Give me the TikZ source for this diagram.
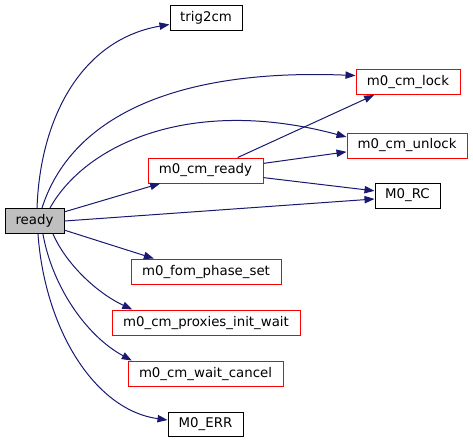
\documentclass[tikz,border=0pt]{standalone}
\usepackage{fontspec}
\setmainfont{DejaVu Sans}
\usetikzlibrary{arrows.meta}
\definecolor{edgecol}{HTML}{191970}
\definecolor{readyfill}{HTML}{BFBFBF}
\tikzset{
  box/.style={draw=black, line width=0.75pt, minimum height=18.75pt, inner sep=0pt, font=\fontsize{10pt}{12pt}\selectfont},
  redbox/.style={box, draw=red},
  edge/.style={draw=edgecol, line width=0.75pt, -{Triangle[length=7.5pt,width=5.5pt]}},
}
\begin{document}
\begin{tikzpicture}[x=0.75pt,y=-0.75pt]
\useasboundingbox (0,0) rectangle (473,443);
\node[box, fill=readyfill, minimum width=44.25pt] (ready) at (34.5,221) {ready};
\node[box, minimum width=54pt] (trig) at (206,18) {trig2cm};
\node[redbox, minimum width=86.25pt] (cmready) at (205.5,170.5) {m0\_cm\_ready};
\node[redbox, minimum width=78pt] (lock) at (408,82) {m0\_cm\_lock};
\node[redbox, minimum width=90pt] (unlock) at (407,145.5) {m0\_cm\_unlock};
\node[box, minimum width=48.75pt] (rc) at (407.5,195.5) {M0\_RC};
\node[redbox, minimum width=112.5pt] (fom) at (206,271.5) {m0\_fom\_phase\_set};
\node[redbox, minimum width=141pt] (prox) at (206,322.5) {m0\_cm\_proxies\_init\_wait};
\node[redbox, minimum width=116.25pt] (wc) at (205.5,373.5) {m0\_cm\_wait\_cancel};
\node[box, minimum width=56.25pt, minimum height=18pt] (err) at (205.5,424) {M0\_ERR};

\draw[edge] (ready.79) .. controls (40,120) and (80,40) .. (trig.190);
\draw[edge] (ready.60) .. controls (70,120) and (170,68) .. (lock.173);
\draw[edge] (ready.40) .. controls (85,145) and (190,95) .. (unlock.172);
\draw[edge] (ready.17) -- (cmready.196);
\draw[edge] (ready.east) -- (rc.186);
\draw[edge] (cmready.22) -- (lock.201);
\draw[edge] (cmready.7) -- (unlock.186);
\draw[edge] (cmready.-7) -- (rc.172);
\draw[edge] (ready.-17) -- (fom.166);
\draw[edge] (ready.-35) .. controls (65,262) and (95,292) .. (prox.170);
\draw[edge] (ready.-57) .. controls (52,285) and (85,335) .. (wc.170);
\draw[edge] (ready.-75) .. controls (45,330) and (95,410) .. (err.174);
\end{tikzpicture}
\end{document}
